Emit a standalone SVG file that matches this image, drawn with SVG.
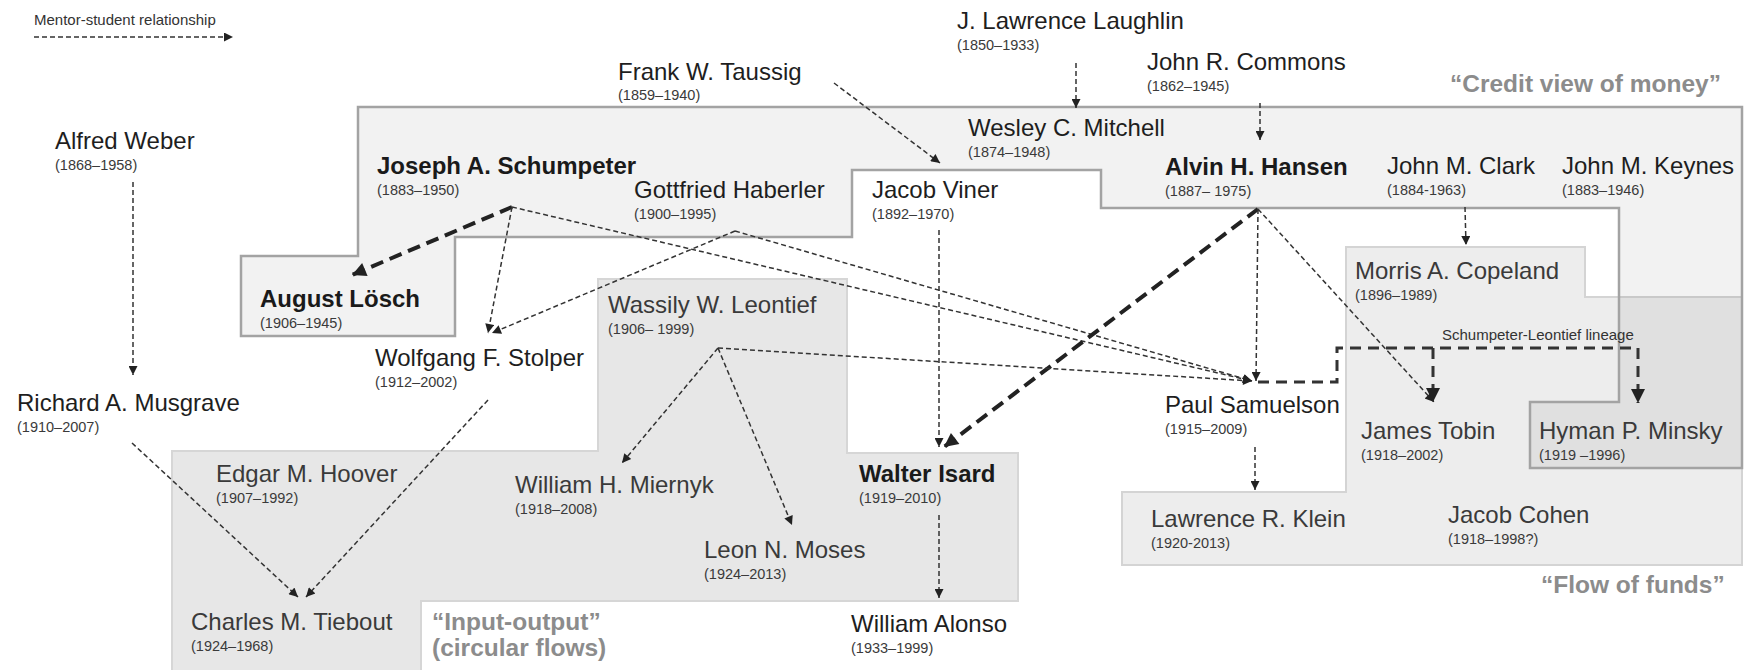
<svg xmlns="http://www.w3.org/2000/svg" width="1745" height="670" viewBox="0 0 1745 670">
<style>
text{font-family:"Liberation Sans",Arial,sans-serif}
.nm{font-size:24px;fill:#1e1e1e}
.ng{font-size:24px;fill:#3a3a3a}
.nb{font-size:24px;font-weight:bold;fill:#1a1a1a}
.dt{font-size:14.5px;fill:#3a3a3a}
.cat{font-size:24.5px;font-weight:bold;fill:#8c8c8c}
.sm{font-size:15px;fill:#333}
.ln{fill:none;stroke:#333;stroke-width:1.5;stroke-dasharray:5 3}
.lk{fill:none;stroke:#222;stroke-width:4;stroke-dasharray:13 7}
.lg{fill:none;stroke:#333;stroke-width:3;stroke-dasharray:11 7}
</style>
<defs>
<marker id="ah" viewBox="0 0 10 10" refX="10" refY="5" markerWidth="11" markerHeight="9" markerUnits="userSpaceOnUse" orient="auto"><path d="M0,0 L10,5 L0,10 z" fill="#222"/></marker>
<marker id="ahk" viewBox="0 0 10 10" refX="10" refY="5" markerWidth="17" markerHeight="14" markerUnits="userSpaceOnUse" orient="auto"><path d="M0,0 L10,5 L0,10 z" fill="#222"/></marker>
</defs>
<rect width="1745" height="670" fill="#fff"/>
<g id="regions">
<polygon id="flow-of-funds" points="1346,247 1585,247 1585,297 1742,297 1742,565 1122,565 1122,492 1346,492" fill="#ededed" stroke="#d4d4d4" stroke-width="2"/>
<polygon id="input-output" points="172,451 598,451 598,279 847,279 847,453 1018,453 1018,601 421,601 421,672 172,672" fill="#e7e7e7" stroke="#d6d6d6" stroke-width="2"/>
<polygon id="credit-view" points="358,107 1742,107 1742,468 1530,468 1530,402 1619,402 1619,208 1101,208 1101,170 852,170 852,237 455,237 455,336 241,336 241,256 358,256" fill="#000" fill-opacity="0.05" stroke="#a3a3a3" stroke-width="2.5"/>
</g>
<g id="category-labels">
<text class="cat" x="1450" y="92">“Credit view of money”</text>
<text class="cat" x="1541" y="593">“Flow of funds”</text>
<text class="cat" x="432" y="630">“Input-output”</text>
<text class="cat" x="432" y="656">(circular flows)</text>
</g>
<g id="legend">
<text class="sm" x="34" y="25">Mentor-student relationship</text>
<line class="ln" x1="34" y1="37" x2="233" y2="37" marker-end="url(#ah)"/>
</g>
<g id="connectors">
<line class="ln" x1="133" y1="182" x2="133" y2="375" marker-end="url(#ah)"/>
<line class="ln" x1="834" y1="83" x2="940" y2="163" marker-end="url(#ah)"/>
<line class="ln" x1="1076" y1="63" x2="1076" y2="108" marker-end="url(#ah)"/>
<line class="ln" x1="1260" y1="103" x2="1260" y2="140" marker-end="url(#ah)"/>
<line class="lk" x1="512" y1="207" x2="352" y2="275" marker-end="url(#ahk)"/>
<line class="ln" x1="512" y1="207" x2="488" y2="333" marker-end="url(#ah)"/>
<line class="ln" x1="512" y1="207" x2="1252" y2="381" marker-end="url(#ah)"/>
<line class="ln" x1="735" y1="231" x2="492" y2="333" marker-end="url(#ah)"/>
<line class="ln" x1="735" y1="231" x2="1252" y2="381" marker-end="url(#ah)"/>
<line class="ln" x1="939" y1="230" x2="939" y2="447" marker-end="url(#ah)"/>
<line class="lk" x1="1258" y1="209" x2="944" y2="447" marker-end="url(#ahk)"/>
<line class="ln" x1="1258" y1="209" x2="1256" y2="381" marker-end="url(#ah)"/>
<line class="ln" x1="1258" y1="209" x2="1434" y2="402" marker-end="url(#ah)"/>
<line class="ln" x1="1465" y1="207" x2="1466" y2="245" marker-end="url(#ah)"/>
<line class="ln" x1="718" y1="348" x2="1252" y2="381" marker-end="url(#ah)"/>
<line class="ln" x1="718" y1="348" x2="622" y2="463" marker-end="url(#ah)"/>
<line class="ln" x1="718" y1="348" x2="792" y2="525" marker-end="url(#ah)"/>
<line class="ln" x1="132" y1="443" x2="298" y2="597" marker-end="url(#ah)"/>
<line class="ln" x1="488" y1="400" x2="306" y2="597" marker-end="url(#ah)"/>
<line class="ln" x1="939" y1="515" x2="939" y2="598" marker-end="url(#ah)"/>
<line class="ln" x1="1255" y1="447" x2="1255" y2="490" marker-end="url(#ah)"/>
<polyline class="lg" points="1258,382 1337,382 1337,348 1638,348 1638,403" marker-end="url(#ahk)"/>
<polyline class="lg" points="1433,348 1433,402" marker-end="url(#ahk)"/>
<text class="sm" x="1442" y="340">Schumpeter-Leontief lineage</text>
</g>
<g id="n-weber"><text class="nm" x="55" y="149">Alfred Weber</text><text class="dt" x="55" y="170">(1868–1958)</text></g>
<g id="n-schumpeter"><text class="nb" x="377" y="174">Joseph A. Schumpeter</text><text class="dt" x="377" y="195">(1883–1950)</text></g>
<g id="n-taussig"><text class="nm" x="618" y="80">Frank W. Taussig</text><text class="dt" x="618" y="100">(1859–1940)</text></g>
<g id="n-laughlin"><text class="nm" x="957" y="29">J. Lawrence Laughlin</text><text class="dt" x="957" y="50">(1850–1933)</text></g>
<g id="n-commons"><text class="nm" x="1147" y="70">John R. Commons</text><text class="dt" x="1147" y="91">(1862–1945)</text></g>
<g id="n-mitchell"><text class="nm" x="968" y="136">Wesley C. Mitchell</text><text class="dt" x="968" y="157">(1874–1948)</text></g>
<g id="n-haberler"><text class="nm" x="634" y="198">Gottfried Haberler</text><text class="dt" x="634" y="219">(1900–1995)</text></g>
<g id="n-viner"><text class="nm" x="872" y="198">Jacob Viner</text><text class="dt" x="872" y="219">(1892–1970)</text></g>
<g id="n-hansen"><text class="nb" x="1165" y="175">Alvin H. Hansen</text><text class="dt" x="1165" y="196">(1887– 1975)</text></g>
<g id="n-clark"><text class="nm" x="1387" y="174">John M. Clark</text><text class="dt" x="1387" y="195">(1884-1963)</text></g>
<g id="n-keynes"><text class="nm" x="1562" y="174">John M. Keynes</text><text class="dt" x="1562" y="195">(1883–1946)</text></g>
<g id="n-losch"><text class="nb" x="260" y="307">August Lösch</text><text class="dt" x="260" y="328">(1906–1945)</text></g>
<g id="n-stolper"><text class="nm" x="375" y="366">Wolfgang F. Stolper</text><text class="dt" x="375" y="387">(1912–2002)</text></g>
<g id="n-musgrave"><text class="nm" x="17" y="411">Richard A. Musgrave</text><text class="dt" x="17" y="432">(1910–2007)</text></g>
<g id="n-leontief"><text class="ng" x="608" y="313">Wassily W. Leontief</text><text class="dt" x="608" y="334">(1906– 1999)</text></g>
<g id="n-copeland"><text class="ng" x="1355" y="279">Morris A. Copeland</text><text class="dt" x="1355" y="300">(1896–1989)</text></g>
<g id="n-samuelson"><text class="nm" x="1165" y="413">Paul Samuelson</text><text class="dt" x="1165" y="434">(1915–2009)</text></g>
<g id="n-tobin"><text class="ng" x="1361" y="439">James Tobin</text><text class="dt" x="1361" y="460">(1918–2002)</text></g>
<g id="n-minsky"><text class="ng" x="1539" y="439">Hyman P. Minsky</text><text class="dt" x="1539" y="460">(1919 –1996)</text></g>
<g id="n-hoover"><text class="ng" x="216" y="482">Edgar M. Hoover</text><text class="dt" x="216" y="503">(1907–1992)</text></g>
<g id="n-miernyk"><text class="ng" x="515" y="493">William H. Miernyk</text><text class="dt" x="515" y="514">(1918–2008)</text></g>
<g id="n-isard"><text class="nb" x="859" y="482">Walter Isard</text><text class="dt" x="859" y="503">(1919–2010)</text></g>
<g id="n-moses"><text class="ng" x="704" y="558">Leon N. Moses</text><text class="dt" x="704" y="579">(1924–2013)</text></g>
<g id="n-klein"><text class="ng" x="1151" y="527">Lawrence R. Klein</text><text class="dt" x="1151" y="548">(1920-2013)</text></g>
<g id="n-cohen"><text class="ng" x="1448" y="523">Jacob Cohen</text><text class="dt" x="1448" y="544">(1918–1998?)</text></g>
<g id="n-tiebout"><text class="ng" x="191" y="630">Charles M. Tiebout</text><text class="dt" x="191" y="651">(1924–1968)</text></g>
<g id="n-alonso"><text class="nm" x="851" y="632">William Alonso</text><text class="dt" x="851" y="653">(1933–1999)</text></g>
</svg>
